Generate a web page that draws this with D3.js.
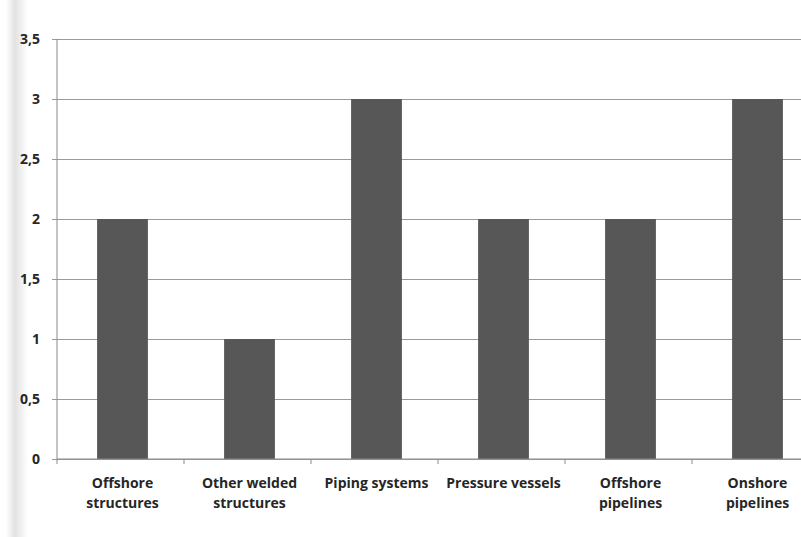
<!DOCTYPE html>
<html>
<head>
<meta charset="utf-8">
<script src="https://cdn.jsdelivr.net/npm/d3@7"></script>
<style>
  body { margin: 0; background: #fff; overflow: hidden; }
  text { font-family: "Open Sans", "Noto Sans", sans-serif; font-weight: bold; fill: #262626; }
</style>
</head>
<body>
<div id="chart"></div>
<script>
const categories = ["Offshore structures", "Other welded structures", "Piping systems",
  "Pressure vessels", "Offshore pipelines", "Onshore pipelines"];
const labelLines = [["Offshore", "structures"], ["Other welded", "structures"], ["Piping systems"],
  ["Pressure vessels"], ["Offshore", "pipelines"], ["Onshore", "pipelines"]];
const values = [2, 1, 3, 2, 2, 3];
const yTicks = [0, 0.5, 1, 1.5, 2, 2.5, 3, 3.5];

let width = 801,
  height = 537,
  margin = ({ top: 39, right: -18, bottom: 78, left: 57 });

const svg = d3.select("#chart")
  .append("svg")
  .attr("width", width)
  .attr("height", height)
  .style("display", "block");

// scanned page shading on the left edge
const grad = svg.append("defs").append("linearGradient")
  .attr("id", "shade");
grad.append("stop").attr("offset", "0%").attr("stop-color", "#fff");
grad.append("stop").attr("offset", "40%").attr("stop-color", "#e2e2e2");
grad.append("stop").attr("offset", "100%").attr("stop-color", "#fff");
svg.append("rect")
  .attr("x", 6).attr("y", 0)
  .attr("width", 22).attr("height", height)
  .attr("fill", "url(#shade)");

let x = d3.scaleBand()
  .domain(categories)
  .range([margin.left, width - margin.right])
  .paddingInner(0.6)
  .paddingOuter(0.3);

let y = d3.scaleLinear()
  .domain([0, 3.5])
  .range([height - margin.bottom, margin.top]);

// gridlines + y labels
const yAxis = svg.append("g")
  .attr("transform", `translate(${margin.left},0)`)
  .call(d3.axisLeft(y).tickValues(yTicks)
    .tickSize(-(width - margin.right - margin.left))
    .tickFormat(d => String(d).replace(".", ",")));
yAxis.select(".domain").remove();
yAxis.selectAll(".tick line")
  .attr("stroke", "#9a9a9a")
  .attr("x1", -5);
yAxis.selectAll(".tick text")
  .attr("x", -17)
  .attr("font-size", 14);

// y axis line
svg.append("line")
  .attr("x1", margin.left).attr("x2", margin.left)
  .attr("y1", margin.top).attr("y2", height - margin.bottom)
  .attr("stroke", "#8a8a8a");

// bars
svg.append("g")
  .selectAll("rect")
  .data(values)
  .join("rect")
  .attr("x", (d, i) => x(categories[i]) + 2)
  .attr("y", d => y(d))
  .attr("width", x.bandwidth())
  .attr("height", d => y(0) - y(d))
  .attr("fill", "#575757");

// x axis with ticks between categories
const step = x.step();
const xAxis = svg.append("g")
  .attr("transform", `translate(0,${height - margin.bottom})`);
xAxis.append("line")
  .attr("x1", margin.left).attr("x2", width)
  .attr("stroke", "#8a8a8a");
xAxis.selectAll(".sep")
  .data(categories)
  .join("line")
  .attr("x1", (d, i) => margin.left + i * step)
  .attr("x2", (d, i) => margin.left + i * step)
  .attr("y1", 0).attr("y2", 5)
  .attr("stroke", "#8a8a8a");

xAxis.selectAll("text")
  .data(labelLines)
  .join("text")
  .attr("text-anchor", "middle")
  .attr("font-size", 14)
  .attr("transform", (d, i) => `translate(${x(categories[i]) + x.bandwidth() / 2 + 2},29)`)
  .selectAll("tspan")
  .data(d => d)
  .join("tspan")
  .attr("x", 0)
  .attr("dy", (d, j) => j === 0 ? 0 : 20)
  .text(d => d);
</script>
</body>
</html>
